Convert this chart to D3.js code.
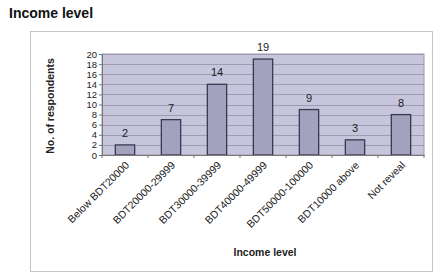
<!DOCTYPE html>
<html><head><meta charset="utf-8">
<script src="https://cdn.jsdelivr.net/npm/d3@7"></script>
<style>body{margin:0;background:#fff;}svg{display:block;font-family:"Liberation Sans",Arial,sans-serif;}</style>
</head><body>
<svg id="c" width="446" height="278"></svg>
<script>
const categories = ["Below BDT20000","BDT20000-29999","BDT30000-39999","BDT40000-49999","BDT50000-100000","BDT10000 above","Not reveal"];
const values = [2,7,14,19,9,3,8];
const yTicks = [0,2,4,6,8,10,12,14,16,18,20];

const svg = d3.select("#c");
const m = {l:102, r:424, t:54, b:155};

svg.append("text").attr("x",9).attr("y",18).attr("font-size",14).attr("font-weight","bold").attr("fill","#111").text("Income level");
svg.append("rect").attr("x",30.5).attr("y",31.5).attr("width",402).attr("height",240).attr("fill","#fff").attr("stroke","#c4c4c4");

const x = d3.scaleBand().domain(categories).range([m.l,m.r]).paddingInner(0.58).paddingOuter(0.29);
const y = d3.scaleLinear().domain([0,20]).range([m.b,m.t]);

svg.append("rect").attr("x",m.l).attr("y",m.t).attr("width",m.r-m.l).attr("height",m.b-m.t).attr("fill","#c6c5dc").attr("stroke","#9a99ae");

svg.append("g").selectAll("line").data(yTicks.filter(d=>d>0)).join("line")
  .attr("x1",m.l).attr("x2",m.r).attr("y1",d=>Math.round(y(d))+0.5).attr("y2",d=>Math.round(y(d))+0.5)
  .attr("stroke","#9d9cb2").attr("stroke-width",1);

svg.append("g").selectAll("rect").data(values).join("rect")
  .attr("x",(d,i)=>x(categories[i])).attr("y",d=>y(d)).attr("width",x.bandwidth()).attr("height",d=>y(0)-y(d))
  .attr("fill","#a3a1bd").attr("stroke","#3b3950").attr("stroke-width",1.3);

svg.append("g").selectAll("text").data(values).join("text")
  .attr("x",(d,i)=>x(categories[i])+x.bandwidth()/2).attr("y",d=>y(d)-8)
  .attr("text-anchor","middle").attr("font-size",11).attr("fill","#222").text(d=>d);

const ya = d3.axisLeft(y).tickValues(yTicks).tickSize(3).tickPadding(2);
const gy = svg.append("g").attr("transform",`translate(${m.l},0)`).call(ya);
gy.select(".domain").attr("stroke","#777");
gy.selectAll(".tick line").attr("stroke","#777");
gy.selectAll("text").attr("font-size",9.5).attr("fill","#222").attr("font-family","Liberation Sans, Arial, sans-serif");

const xa = d3.axisBottom(x).tickSize(0).tickPadding(6);
const gx = svg.append("g").attr("transform",`translate(0,${m.b})`).call(xa);
gx.select(".domain").attr("stroke","#777");
gx.selectAll("text").attr("font-size",10.5).attr("fill","#222").attr("font-family","Liberation Sans, Arial, sans-serif")
  .attr("text-anchor","end").attr("dy","0.35em")
  .attr("transform","translate(-2,4) rotate(-45)");
svg.append("g").selectAll("line").data(d3.range(categories.length+1)).join("line")
  .attr("x1",i=>m.l+i*(m.r-m.l)/categories.length).attr("x2",i=>m.l+i*(m.r-m.l)/categories.length)
  .attr("y1",m.b).attr("y2",m.b+3).attr("stroke","#777");

svg.append("text").attr("x",265).attr("y",256).attr("text-anchor","middle").attr("font-size",10.5).attr("font-weight","bold").attr("fill","#222").text("Income level");
svg.append("text").attr("transform","translate(54,106) rotate(-90)").attr("text-anchor","middle").attr("font-size",10.5).attr("font-weight","bold").attr("fill","#222").text("No. of respondents");
</script>
</body></html>
